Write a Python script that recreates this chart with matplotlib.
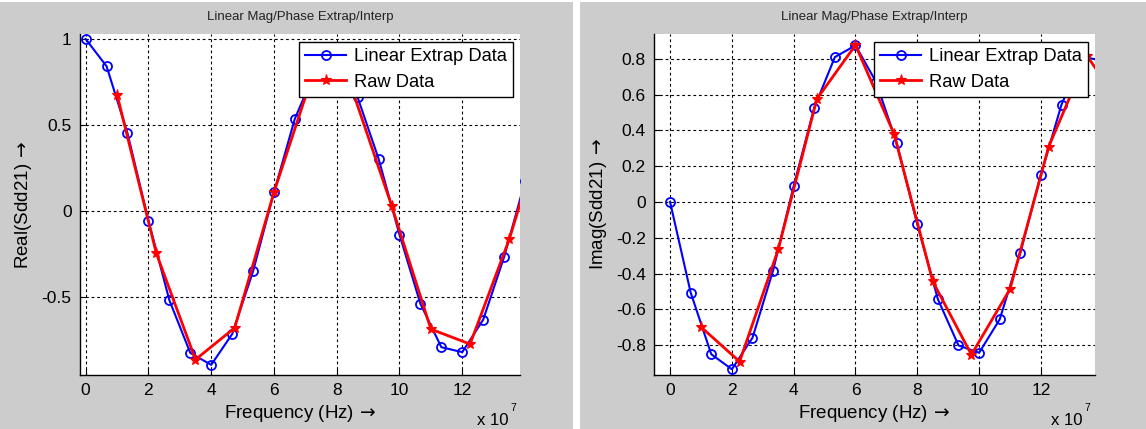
import matplotlib
matplotlib.use("Agg")
import matplotlib.pyplot as plt
from matplotlib.patches import Rectangle

plt.rcParams['font.family'] = ['Liberation Sans', 'DejaVu Sans']
plt.rcParams['mathtext.fontset'] = 'dejavusans'

# ---------------- data (frequency in units of 1e7 Hz) ----------------
extrap_freq = [0.0, 0.667, 1.333, 2.0, 2.667, 3.333, 4.0, 4.667, 5.333, 6.0, 6.667,
               7.333, 8.0, 8.667, 9.333, 10.0, 10.667, 11.333, 12.0, 12.667, 13.333, 14.0]
extrap_real = [1.0, 0.841, 0.451, -0.058, -0.521, -0.828, -0.898, -0.719, -0.354, 0.107, 0.536,
               0.82, 0.93, 0.66, 0.303, -0.140, -0.542, -0.795, -0.824, -0.635, -0.270, 0.17]
extrap_imag = [0.0, -0.506, -0.850, -0.934, -0.758, -0.383, 0.090, 0.527, 0.809, 0.874, 0.67,
               0.330, -0.125, -0.543, -0.801, -0.842, -0.655, -0.284, 0.153, 0.544, 0.81, 0.79]

raw_freq = [1.0, 2.25, 3.5, 4.75, 6.0, 7.25, 8.5, 9.75, 11.0, 12.25, 13.5, 14.75]
raw_real = [0.676, -0.247, -0.867, -0.682, 0.107, 0.80, 0.70, 0.029, -0.690, -0.777, -0.165, 0.58]
raw_imag = [-0.698, -0.891, -0.265, 0.575, 0.876, 0.379, -0.443, -0.853, -0.486, 0.308, 0.814, 0.50]

x_ticks = [0, 2, 4, 6, 8, 10, 12]
real_ticks = [-0.5, 0, 0.5, 1]
real_ticklabels = ['-0.5', '0', '0.5', '1']
imag_ticks = [-0.8, -0.6, -0.4, -0.2, 0, 0.2, 0.4, 0.6, 0.8]
imag_ticklabels = ['-0.8', '-0.6', '-0.4', '-0.2', '0', '0.2', '0.4', '0.6', '0.8']

title_text = 'Linear Mag/Phase Extrap/Interp'
legend_labels = ['Linear Extrap Data', 'Raw Data']
x_label = r'Frequency (Hz)$\,\rightarrow$'
real_label = r'Real(Sdd21)$\,\rightarrow$'
imag_label = r'Imag(Sdd21)$\,\rightarrow$'

# ---------------- figure ----------------
W, H = 1146, 429
fig = plt.figure(figsize=(W / 100, H / 100), dpi=100, facecolor='white')
gray = '#cccccc'
fig.patches.append(Rectangle((0, 0), 573 / W, (H - 2) / H, transform=fig.transFigure,
                             facecolor=gray, edgecolor='none', zorder=-10))
fig.patches.append(Rectangle((580 / W, 0), (W - 580) / W, (H - 2) / H, transform=fig.transFigure,
                             facecolor=gray, edgecolor='none', zorder=-10))


def px_axes(l, r, t, b):
    return [l / W, 1 - b / H, (r - l) / W, (b - t) / H]


def style_axes(ax, xlim, ylim, yticks, yticklabels, ylabel):
    ax.set_facecolor('white')
    ax.set_xlim(*xlim)
    ax.set_ylim(*ylim)
    ax.set_xticks(x_ticks)
    ax.set_xticklabels([str(t) for t in x_ticks])
    ax.set_yticks(yticks)
    ax.set_yticklabels(yticklabels)
    for s in ['top', 'right']:
        ax.spines[s].set_visible(False)
    for s in ['left', 'bottom']:
        ax.spines[s].set_linewidth(1.0)
        ax.spines[s].set_color('black')
    ax.tick_params(direction='in', length=4, width=0.8, labelsize=12.5, colors='black')
    ax.tick_params(axis='x', pad=6)
    ax.tick_params(axis='y', pad=6)
    ax.grid(True, color='black', linestyle=(0, (2.5, 2.5)), linewidth=0.8)
    ax.set_axisbelow(True)
    ax.set_title(title_text, fontsize=9.5, color='#222222', y=1 + 17 / 341, va='center', pad=0)
    ax.set_xlabel(x_label, fontsize=13.5)
    ax.set_ylabel(ylabel, fontsize=13.5)


def plot_series(ax, yext, yraw):
    ax.plot(extrap_freq, yext, color='#0000ff', linewidth=1.5, marker='o', markersize=6.5,
            markerfacecolor='none', markeredgewidth=1.3, label=legend_labels[0], zorder=3)
    ax.plot(raw_freq, yraw, color='#ff0000', linewidth=2.0, marker='*', markersize=8,
            markeredgewidth=0.8, label=legend_labels[1], zorder=4)


def add_legend(ax, right_frac, top_frac):
    leg = ax.legend(loc='upper right', bbox_to_anchor=(right_frac, top_frac), borderaxespad=0,
                    fontsize=13.2, frameon=True, fancybox=False, framealpha=1, edgecolor='black',
                    borderpad=0.35, labelspacing=0.45, handlelength=2.2, handletextpad=0.45,
                    numpoints=1)
    leg.get_frame().set_linewidth(1.0)
    leg.set_zorder(10)


# left axes
axL = fig.add_axes(px_axes(80, 520, 34, 375))
style_axes(axL, (-0.18, 13.84), (-0.957, 1.029), real_ticks, real_ticklabels, real_label)
plot_series(axL, extrap_real, raw_real)
add_legend(axL, (513.3 - 80) / 440, (375 - 42) / 341)
axL.xaxis.set_label_coords(0.5, -(413 - 375) / 341)
axL.xaxis.label.set_va('center')
axL.yaxis.set_label_coords((24 - 80) / 440, 0.5)
axL.yaxis.label.set_va('center')

# right axes
axR = fig.add_axes(px_axes(654, 1095, 34, 375))
style_axes(axR, (-0.52, 13.75), (-0.966, 0.938), imag_ticks, imag_ticklabels, imag_label)
plot_series(axR, extrap_imag, raw_imag)
add_legend(axR, (1088.3 - 654) / 441, (375 - 42) / 341)
axR.xaxis.set_label_coords(0.5, -(413 - 375) / 341)
axR.xaxis.label.set_va('center')
axR.yaxis.set_label_coords((598.5 - 654) / 441, 0.5)
axR.yaxis.label.set_va('center')

# exponent labels
for x0 in (477, 1051):
    fig.text(x0 / W, (H - 425) / H, 'x 10', fontsize=12, va='baseline', ha='left')
    fig.text((x0 + 33) / W, (H - 411) / H, '7', fontsize=7.5, va='baseline', ha='left')

fig.savefig('out.png', dpi=100, facecolor=fig.get_facecolor())
